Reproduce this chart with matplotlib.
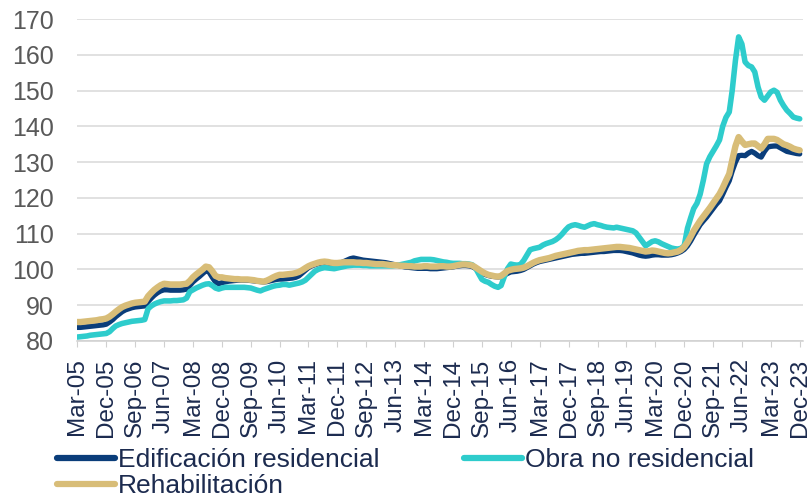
import pandas as pd
import matplotlib
matplotlib.use("Agg")
import matplotlib.pyplot as plt
import matplotlib.dates as mdates

plt.rcParams["font.family"] = ["Liberation Sans", "DejaVu Sans"]

# monthly index, Mar-05 .. Dec-23
months = pd.date_range("2005-03-01", "2023-12-01", freq="MS")

# Edificación residencial
edificacion = [
    83.8, 83.8, 83.9, 84.0, 84.1, 84.2, 84.3, 84.4, 84.5, 84.7,
    85.3, 86.0, 86.8, 87.5, 88.2, 88.7, 89.0, 89.3, 89.5, 89.6, 89.7, 89.8,
    91.0, 92.0, 92.8, 93.5, 94.0, 94.3, 94.3, 94.2, 94.2, 94.2, 94.2, 94.3,
    94.5, 95.5, 96.5, 97.3, 98.0, 98.8, 99.6, 99.3, 97.8, 96.5, 96.0, 96.3,
    96.5, 96.7, 96.8, 96.9, 97.0, 97.0, 97.0, 97.0, 96.9, 96.8, 96.7, 96.6,
    96.5, 96.6, 96.8, 97.0, 97.2, 97.3, 97.3, 97.4, 97.5, 97.6, 97.8, 98.2,
    99.0, 99.8, 100.5, 101.0, 101.3, 101.6, 101.8, 101.9, 101.8, 101.6, 101.5, 101.6,
    101.8, 102.2, 102.6, 103.0, 103.2, 103.0, 102.8, 102.6, 102.5, 102.4, 102.3, 102.2,
    102.1, 102.0, 101.9, 101.7, 101.5, 101.3, 101.1, 100.9, 100.7, 100.6, 100.5, 100.4,
    100.3, 100.3, 100.3, 100.3, 100.2, 100.2, 100.2, 100.3, 100.4, 100.5, 100.6, 100.7,
    100.9, 101.0, 101.1, 101.1, 101.0, 100.8, 100.3, 99.6, 99.0, 98.6, 98.3, 98.1,
    98.0, 97.9, 98.0, 98.4, 98.9, 99.3, 99.4, 99.5, 99.7, 100.0, 100.5, 101.0,
    101.5, 101.9, 102.2, 102.4, 102.6, 102.8, 103.0, 103.2, 103.4, 103.6, 103.8, 104.0,
    104.2, 104.3, 104.4, 104.5, 104.5, 104.6, 104.7, 104.8, 104.9, 105.0, 105.0, 105.1,
    105.2, 105.3, 105.3, 105.3, 105.2, 105.0, 104.8, 104.6, 104.3, 104.0, 103.8, 103.7,
    103.8, 104.0, 104.1, 104.1, 104.0, 104.0, 104.0, 104.1, 104.3, 104.6, 105.0, 105.6,
    106.6, 108.0, 109.5, 111.0, 112.5, 113.6, 114.6, 115.8, 117.0, 118.2, 119.2, 121.0,
    123.0, 124.8, 127.5, 130.0, 131.8, 131.9, 131.8, 132.5, 133.0, 132.5, 131.8, 131.4,
    133.0, 134.2, 134.4, 134.5, 134.5, 134.0, 133.5, 133.0, 132.8, 132.6, 132.4, 132.3,
]

# Obra no residencial
obra = [
    81.1, 81.2, 81.3, 81.4, 81.6, 81.7, 81.8, 81.9, 82.0, 82.1,
    82.6, 83.5, 84.2, 84.6, 84.9, 85.1, 85.3, 85.5, 85.6, 85.7, 85.8, 86.0,
    89.0, 89.8, 90.3, 90.7, 91.0, 91.2, 91.2, 91.2, 91.3, 91.3, 91.4, 91.5,
    92.0, 93.8, 94.3, 94.8, 95.2, 95.6, 95.9, 96.0, 95.5, 94.8, 94.5, 94.8,
    95.0, 95.0, 95.0, 95.0, 95.0, 95.0, 95.0, 94.9, 94.8, 94.5, 94.2, 94.0,
    94.4, 94.7, 95.0, 95.3, 95.5, 95.6, 95.8, 95.8, 95.6, 95.8, 96.0, 96.2,
    96.5, 97.0, 97.8, 98.7, 99.5, 100.0, 100.3, 100.5, 100.4, 100.3, 100.2, 100.4,
    100.6, 100.8, 101.0, 101.1, 101.2, 101.2, 101.2, 101.1, 101.1, 101.0, 101.0, 101.0,
    101.0, 101.0, 101.0, 101.0, 101.0, 101.1, 101.2, 101.4, 101.6, 101.8, 102.0, 102.4,
    102.6, 102.8, 102.8, 102.8, 102.8, 102.7, 102.5, 102.3, 102.1, 102.0, 101.8, 101.7,
    101.7, 101.7, 101.6, 101.6, 101.5, 101.3, 100.5, 98.8, 97.2, 96.7, 96.4, 95.8,
    95.3, 95.0, 95.5, 98.0, 100.2, 101.5, 101.3, 101.2, 101.4, 102.5, 104.0, 105.5,
    105.8, 106.0, 106.2, 106.8, 107.2, 107.5, 107.8, 108.3, 109.0, 109.9, 111.0, 111.9,
    112.3, 112.5, 112.3, 112.0, 111.8, 112.2, 112.6, 112.8, 112.5, 112.3, 112.0, 111.8,
    111.7, 111.6, 111.8, 111.6, 111.4, 111.2, 111.0, 110.8, 110.2, 109.0, 107.8, 106.6,
    107.2, 107.8, 108.0, 107.7, 107.2, 106.8, 106.4, 106.0, 105.8, 105.7, 105.9, 106.6,
    111.5, 114.5, 117.0, 118.5, 121.0, 125.0, 129.5, 131.5, 133.0, 134.5, 136.2, 140.0,
    142.5, 144.0, 150.0, 158.5, 165.0, 163.0, 158.0, 157.0, 156.6, 155.2, 151.0, 148.2,
    147.3, 148.5, 149.6, 150.1, 149.5, 147.3, 145.8, 144.5, 143.6, 142.6, 142.3, 142.1,
]

# Rehabilitación
rehabilitacion = [
    85.3, 85.3, 85.4, 85.5, 85.6, 85.7, 85.8, 86.0, 86.1, 86.3,
    86.8, 87.5, 88.2, 88.9, 89.5, 89.9, 90.2, 90.5, 90.7, 90.8, 90.9, 91.0,
    92.5, 93.5, 94.3, 95.0, 95.6, 96.0, 95.9, 95.8, 95.8, 95.8, 95.8, 95.9,
    96.0, 96.8, 97.8, 98.6, 99.3, 100.0, 100.8, 100.6, 99.5, 98.2, 97.8, 97.8,
    97.6, 97.5, 97.4, 97.3, 97.3, 97.2, 97.2, 97.2, 97.1, 97.0, 96.8, 96.7,
    96.6, 96.9, 97.3, 97.8, 98.2, 98.5, 98.5, 98.6, 98.7, 98.8, 99.0, 99.3,
    99.8, 100.4, 100.9, 101.3, 101.6, 101.9, 102.1, 102.2, 102.1, 101.9, 101.8, 101.8,
    101.9, 102.0, 102.0, 102.0, 102.0, 101.9, 101.9, 101.8, 101.8, 101.7, 101.6, 101.5,
    101.5, 101.5, 101.4, 101.3, 101.2, 101.2, 101.1, 101.0, 101.0, 100.9, 100.9, 100.8,
    100.8, 100.8, 100.9, 100.9, 100.8, 100.8, 100.8, 100.9, 100.9, 100.8, 100.8, 100.9,
    101.1, 101.3, 101.4, 101.4, 101.3, 101.1, 100.6, 100.0, 99.4, 98.9, 98.5, 98.3,
    98.1, 98.0, 98.2, 98.9, 99.6, 99.9, 100.1, 100.2, 100.3, 100.5, 100.9, 101.4,
    101.9, 102.3, 102.6, 102.8, 103.0, 103.2, 103.5, 103.8, 104.0, 104.2, 104.4, 104.6,
    104.8, 105.0, 105.2, 105.3, 105.4, 105.4, 105.5, 105.6, 105.7, 105.8, 105.9, 106.0,
    106.1, 106.2, 106.3, 106.3, 106.2, 106.1, 106.0, 105.8, 105.6, 105.4, 105.2, 105.0,
    105.1, 105.3, 105.2, 105.0, 104.8, 104.6, 104.5, 104.6, 104.8, 105.0, 105.5, 106.3,
    107.6, 109.2, 110.8, 112.2, 113.6, 114.8, 116.0, 117.2, 118.5, 119.8, 121.1, 122.8,
    124.8, 126.7, 130.5, 134.5, 137.0, 135.8, 134.8, 135.0, 135.2, 135.2, 134.5, 133.8,
    135.0, 136.5, 136.5, 136.5, 136.2, 135.6, 135.0, 134.7, 134.3, 133.8, 133.5, 133.3,
]

c_edif = "#0a3d7a"
c_obra = "#2ecccc"
c_rehab = "#d8bd78"
c_text = "#1c2b4f"

fig = plt.figure(figsize=(8.11, 5.03), dpi=100)
ax = fig.add_axes([0.0953, 0.3221, 0.8948, 0.6401])

l1, = ax.plot(months, edificacion, color=c_edif, lw=3.8, label="Edificación residencial",
              solid_capstyle="round")
l2, = ax.plot(months, obra, color=c_obra, lw=4.0, label="Obra no residencial",
              solid_capstyle="round")
l3, = ax.plot(months, rehabilitacion, color=c_rehab, lw=4.6, label="Rehabilitación",
              solid_capstyle="round")

ax.set_ylim(80, 170)
ax.set_yticks(range(80, 171, 10))
ax.set_xlim(pd.Timestamp("2005-03-01"), pd.Timestamp("2024-01-01"))

tick_dates = months[::9]
ax.set_xticks(tick_dates)
ax.xaxis.set_major_formatter(mdates.DateFormatter("%b-%y"))
plt.setp(ax.get_xticklabels(), rotation=90, ha="center", va="top")

ax.grid(axis="y", color="#d9d9d9", lw=1.1)
ax.set_axisbelow(True)
for s in ["top", "right", "left"]:
    ax.spines[s].set_visible(False)
ax.spines["bottom"].set_color("#d0d0d0")
ax.spines["bottom"].set_linewidth(1.1)

ax.tick_params(axis="y", length=0, labelsize=18, labelcolor="#595959", pad=17)
ax.tick_params(axis="x", length=4.5, color="#d0d0d0", labelsize=17.5,
               labelcolor=c_text, pad=8)

# legend filled column-wise: Edif/Rehab in column 1, Obra in column 2
leg = fig.legend(handles=[l1, l3, l2], loc="upper left",
                 bbox_to_anchor=(57 / 811, 1 - 448 / 503), ncol=2, frameon=False,
                 fontsize=19, handlelength=2.2, handletextpad=0.12, columnspacing=3.2,
                 labelspacing=0.08, borderaxespad=0, borderpad=0, labelcolor=c_text)
for line in leg.get_lines():
    line.set_linewidth(4.5)

fig.savefig("out.png", dpi=100)
